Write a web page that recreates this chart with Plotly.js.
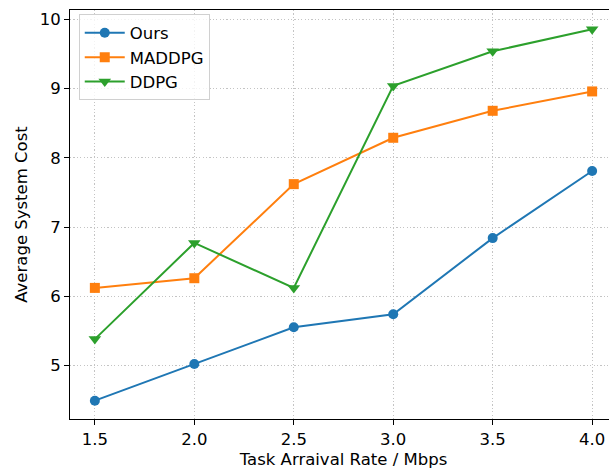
<!DOCTYPE html>
<html>
<head>
<meta charset="utf-8">
<script src="https://cdn.plot.ly/plotly-3.0.1.min.js"></script>
<style>
html,body{margin:0;padding:0;overflow:hidden;background:#fff;width:609px;height:471px;}
#chart{width:620px;height:471px;}
</style>
</head>
<body>
<div id="chart"></div>
<script>
const rates = [1.5, 2.0, 2.5, 3.0, 3.5, 4.0];
const ours = [4.49, 5.02, 5.55, 5.74, 6.84, 7.81];
const maddpg = [6.12, 6.26, 7.62, 8.29, 8.68, 8.96];
const ddpg = [5.38, 6.77, 6.12, 9.04, 9.54, 9.86];
const xTicks = [1.5, 2.0, 2.5, 3.0, 3.5, 4.0];
const xTickText = ['1.5', '2.0', '2.5', '3.0', '3.5', '4.0'];
const yTicks = [5, 6, 7, 8, 9, 10];

const font = 'DejaVu Sans, sans-serif';
const fs = 16.5;
function tr(name, y, color, symbol, msize) {
  return {
    x: rates, y: y, name: name, type: 'scatter', mode: 'lines+markers',
    line: {color: color, width: 2},
    marker: {color: color, symbol: symbol, size: msize}
  };
}
const data = [
  tr('Ours', ours, '#1f77b4', 'circle', 10),
  tr('MADDPG', maddpg, '#ff7f0e', 'square', 10),
  tr('DDPG', ddpg, '#2ca02c', 'triangle-down', 11)
];
const axisCommon = {
  showline: true, linecolor: '#000', linewidth: 1, mirror: true,
  ticks: 'outside', ticklen: 5, tickwidth: 1, tickcolor: '#000',
  showgrid: true, gridcolor: '#c4c4c4', griddash: '1.2px,2.2px', gridwidth: 1,
  zeroline: false, tickfont: {family: font, size: fs, color: '#000'}
};
const layout = {
  width: 620, height: 471,
  margin: {l: 70, r: 3, t: 10, b: 52},
  paper_bgcolor: '#fff', plot_bgcolor: '#fff',
  font: {family: font, size: fs, color: '#000'},
  xaxis: Object.assign({}, axisCommon, {
    range: [1.375, 4.125], tickvals: xTicks, ticktext: xTickText,
    title: {text: 'Task Arraival Rate / Mbps', font: {family: font, size: fs}, standoff: 5}
  }),
  yaxis: Object.assign({}, axisCommon, {
    range: [4.225, 10.137], tickvals: yTicks,
    title: {text: 'Average System Cost', font: {family: font, size: fs}, standoff: 7}
  }),
  legend: {
    x: 0.016, y: 0.989, xanchor: 'left', yanchor: 'top',
    bgcolor: 'rgba(255,255,255,0.8)', bordercolor: '#d0d0d0', borderwidth: 1,
    font: {family: font, size: fs}, tracegroupgap: 0, itemwidth: 40
  },
  showlegend: true
};
Plotly.newPlot('chart', data, layout, {displayModeBar: false, staticPlot: true});
</script>
</body>
</html>
